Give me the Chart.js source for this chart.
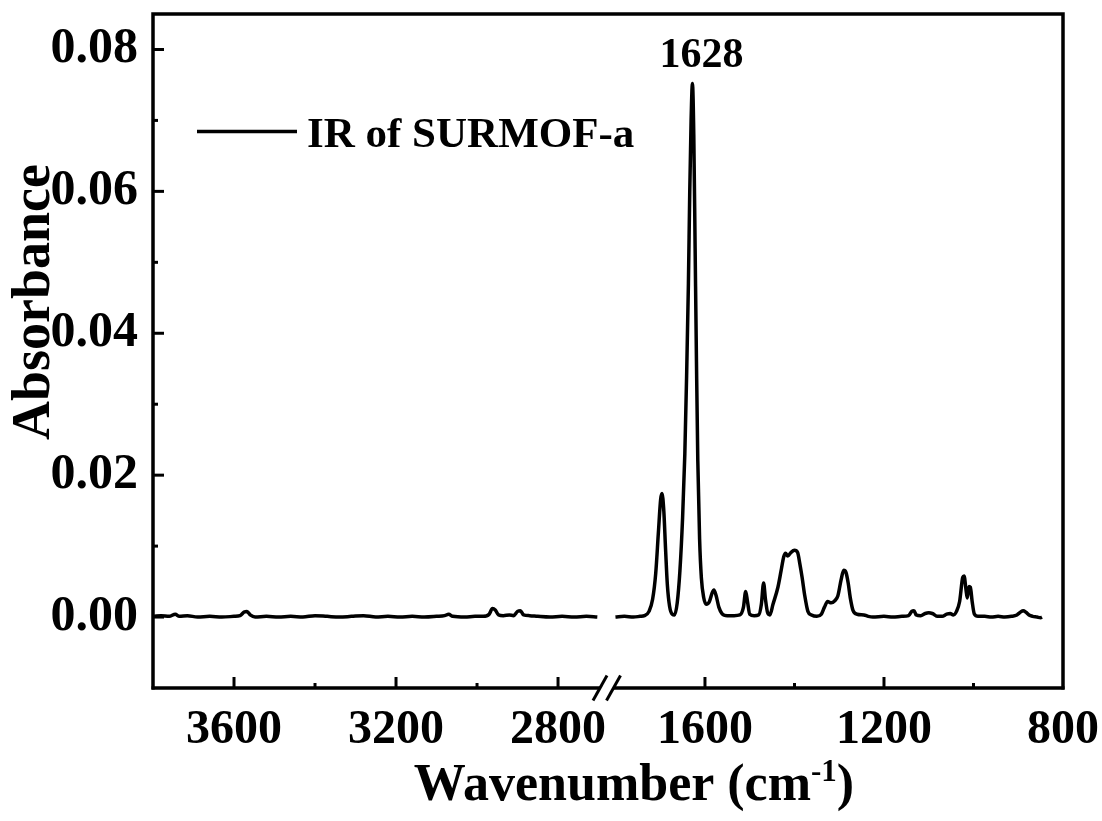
<!DOCTYPE html>
<html>
<head>
<meta charset="utf-8">
<script src="https://cdn.jsdelivr.net/npm/chart.js@4.4.1/dist/chart.umd.min.js"></script>
<style>
  html, body { margin: 0; padding: 0; background: #fff; }
</style>
</head>
<body>
<canvas id="irChart" width="1102" height="821"></canvas>
<script>
// wavenumber ranges (cm-1) shown on either side of the axis break
const xSegments = [[3800, 2700], [1800, 800]];
const xMajorTicks = [3600, 3200, 2800, 1600, 1200, 800];
const xMinorTicks = [3400, 3000, 1400, 1000];
const yMajorTicks = [0, 0.02, 0.04, 0.06, 0.08];
const yMinorTicks = [0.01, 0.03, 0.05, 0.07];

const seriesLabel = "IR of SURMOF-a";
const xTitle = "Wavenumber (cm";
const xTitleSup = "-1";
const yTitle = "Absorbance";
const peakWn = 1628;

// high wavenumber part, left of the break
const highWn = [3798, 3780, 3760, 3745, 3735, 3715, 3690, 3660, 3630, 3600, 3585, 3575, 3568, 3560, 3548,
  3520, 3490, 3460, 3430, 3400, 3370, 3340, 3310, 3280, 3250, 3220, 3190, 3160, 3130, 3100, 3080, 3070,
  3060, 3030, 3005, 2985, 2970, 2962, 2955, 2947, 2935, 2920, 2910, 2900, 2893, 2885, 2870, 2850, 2820,
  2790, 2760, 2730, 2703];
const highAbs = [0.0001, 0.0002, 0.0001, 0.0004, 0.0001, 0.0002, 0.0000, 0.0001, 0.0000, 0.0001, 0.0002,
  0.0007, 0.0008, 0.0003, 0.0000, 0.0001, 0.0000, 0.0001, 0.0000, 0.0002, 0.0001, 0.0000, 0.0001, 0.0002,
  0.0000, 0.0001, 0.0000, 0.0001, 0.0000, 0.0001, 0.0002, 0.0004, 0.0001, 0.0000, 0.0001, 0.0001, 0.0004,
  0.0012, 0.0010, 0.0003, 0.0002, 0.0003, 0.0002, 0.0008, 0.0009, 0.0003, 0.0002, 0.0001, 0.0000, 0.0001,
  0.0000, 0.0001, 0.0000];

// fingerprint part, right of the break
const lowWn = [1800, 1780, 1760, 1745, 1735, 1725, 1717, 1710, 1704, 1699, 1696, 1692, 1688, 1684, 1679,
  1673, 1668, 1662, 1656, 1650, 1645, 1641, 1637, 1634, 1631, 1628, 1625, 1622, 1619, 1616, 1612, 1608,
  1603, 1597, 1590, 1584, 1580, 1575, 1569, 1562, 1550, 1535, 1522, 1514, 1509, 1505, 1500, 1490, 1480,
  1474, 1469, 1465, 1460, 1455, 1448, 1437, 1430, 1424, 1420, 1415, 1408, 1400, 1393, 1388, 1383, 1377,
  1370, 1362, 1350, 1340, 1333, 1326, 1318, 1310, 1303, 1296, 1290, 1285, 1280, 1275, 1269, 1260, 1245,
  1235, 1225, 1200, 1180, 1160, 1145, 1138, 1133, 1128, 1118, 1108, 1100, 1092, 1080, 1070, 1060, 1052,
  1045, 1038, 1031, 1024, 1021, 1017, 1014, 1010, 1007, 1003, 998, 990, 975, 960, 945, 930, 915, 903, 895,
  889, 883, 876, 868, 858, 850, 847];
const lowAbs = [0.0000, 0.0001, 0.0000, 0.0001, 0.0002, 0.0008, 0.0025, 0.0062, 0.0120, 0.0166, 0.0174,
  0.0150, 0.0095, 0.0045, 0.0015, 0.0004, 0.0003, 0.0020, 0.0065, 0.0140, 0.0230, 0.0340, 0.0470, 0.0600,
  0.0700, 0.0752, 0.0680, 0.0520, 0.0360, 0.0220, 0.0110, 0.0055, 0.0028, 0.0018, 0.0022, 0.0034, 0.0038,
  0.0030, 0.0014, 0.0005, 0.0002, 0.0002, 0.0003, 0.0014, 0.0036, 0.0022, 0.0004, 0.0002, 0.0003, 0.0018,
  0.0048, 0.0026, 0.0006, 0.0003, 0.0018, 0.0042, 0.0065, 0.0085, 0.0090, 0.0086, 0.0091, 0.0094, 0.0091,
  0.0075, 0.0056, 0.0030, 0.0008, 0.0003, 0.0001, 0.0004, 0.0014, 0.0022, 0.0020, 0.0023, 0.0030, 0.0052,
  0.0066, 0.0063, 0.0048, 0.0026, 0.0009, 0.0004, 0.0003, 0.0001, 0.0000, 0.0001, 0.0000, 0.0001, 0.0002,
  0.0008, 0.0009, 0.0003, 0.0002, 0.0005, 0.0006, 0.0005, 0.0001, 0.0001, 0.0004, 0.0005, 0.0003, 0.0008,
  0.0022, 0.0056, 0.0058, 0.0040, 0.0027, 0.0043, 0.0042, 0.0022, 0.0004, 0.0001, 0.0001, 0.0000, 0.0001,
  0.0000, 0.0001, 0.0003, 0.0007, 0.0009, 0.0007, 0.0003, 0.0001, 0.0000, -0.0001, 0.0000];

const serif = '"Liberation Serif", "Times New Roman", serif';

// linear scale split into pieces, each piece drawn on its own part of the axis
const LinearScale = Chart.LinearScale || Chart.registry.getScale("linear");
class BrokenScale extends LinearScale {
  toDecimal(v) {
    const segs = this.options.segments;
    const spans = this.options.spans;
    for (let i = 0; i < segs.length; i++) {
      const [from, to] = segs[i];
      if (v <= Math.max(from, to) && v >= Math.min(from, to)) {
        return spans[i][0] + (v - from) / (to - from) * (spans[i][1] - spans[i][0]);
      }
    }
    return (spans[0][1] + spans[1][0]) / 2;
  }
  getPixelForValue(value) {
    if (value === null || value === undefined) return NaN;
    return this.getPixelForDecimal(this.toDecimal(value));
  }
  getValueForPixel(pixel) {
    const d = this.getDecimalForPixel(pixel);
    const segs = this.options.segments;
    const spans = this.options.spans;
    const i = d < spans[1][0] ? 0 : 1;
    return segs[i][0] + (d - spans[i][0]) / (spans[i][1] - spans[i][0]) * (segs[i][1] - segs[i][0]);
  }
}
BrokenScale.id = "brokenLinear";
BrokenScale.defaults = LinearScale.defaults;
Chart.register(BrokenScale);

function toPoints(xs, ys) {
  return xs.map((x, i) => ({ x: x, y: ys[i] }));
}

const frameAndLabels = {
  id: "frameAndLabels",
  afterDatasetsDraw(chart) {
    const { ctx, chartArea: a } = chart;
    const x = chart.scales.x;
    const y = chart.scales.y;
    ctx.save();
    ctx.strokeStyle = "#000";
    ctx.fillStyle = "#000";
    ctx.lineWidth = 3.5;

    // frame: left, top, right
    ctx.beginPath();
    ctx.moveTo(a.left, a.bottom + 1.5);
    ctx.lineTo(a.left, a.top);
    ctx.lineTo(a.right, a.top);
    ctx.lineTo(a.right, a.bottom + 1.5);
    ctx.stroke();

    // bottom axis, cut at the break
    const gapL = x.getPixelForValue(xSegments[0][1]) + 1.5;
    const gapR = x.getPixelForValue(xSegments[1][0]) - 1.5;
    ctx.beginPath();
    ctx.moveTo(a.left - 1.5, a.bottom);
    ctx.lineTo(gapL, a.bottom);
    ctx.moveTo(gapR, a.bottom);
    ctx.lineTo(a.right + 1.5, a.bottom);
    ctx.stroke();

    // break marks
    const c = (gapL + gapR) / 2;
    ctx.lineWidth = 3;
    [c - 7, c + 6.5].forEach(cx => {
      ctx.beginPath();
      ctx.moveTo(cx - 7, a.bottom + 12.5);
      ctx.lineTo(cx + 7, a.bottom - 12.5);
      ctx.stroke();
    });

    // inward tick marks
    const tick = (vals, len, horiz) => {
      vals.forEach(v => {
        ctx.beginPath();
        if (horiz) {
          const px = x.getPixelForValue(v);
          ctx.moveTo(px, a.bottom);
          ctx.lineTo(px, a.bottom - len);
        } else {
          const py = y.getPixelForValue(v);
          ctx.moveTo(a.left, py);
          ctx.lineTo(a.left + len, py);
        }
        ctx.stroke();
      });
    };
    tick(xMajorTicks.filter(v => v !== 800), 11, true);
    tick(xMinorTicks, 5, true);
    tick(yMajorTicks, 11, false);
    tick(yMinorTicks, 5, false);

    // legend
    const ds = chart.data.datasets[0];
    ctx.lineWidth = 3.5;
    ctx.beginPath();
    ctx.moveTo(197, 131.5);
    ctx.lineTo(297, 131.5);
    ctx.stroke();
    ctx.font = "bold 43px " + serif;
    ctx.textAlign = "left";
    ctx.textBaseline = "alphabetic";
    ctx.fillText(ds.label, 307, 147);

    // peak annotation
    ctx.font = "bold 42px " + serif;
    ctx.textAlign = "center";
    ctx.fillText(String(peakWn), x.getPixelForValue(peakWn) + 9, 67);

    // axis titles
    ctx.font = "bold 52px " + serif;
    const mainW = ctx.measureText(xTitle).width;
    ctx.font = "bold 31px " + serif;
    const supW = ctx.measureText(xTitleSup).width;
    ctx.font = "bold 52px " + serif;
    const closeW = ctx.measureText(")").width;
    let tx = 634 - (mainW + supW + closeW) / 2;
    ctx.textAlign = "left";
    ctx.fillText(xTitle, tx, 800);
    tx += mainW;
    ctx.font = "bold 31px " + serif;
    ctx.fillText(xTitleSup, tx, 781);
    tx += supW;
    ctx.font = "bold 52px " + serif;
    ctx.fillText(")", tx, 800);

    ctx.translate(49, 302);
    ctx.rotate(-Math.PI / 2);
    ctx.font = "bold 54px " + serif;
    ctx.textAlign = "center";
    ctx.fillText(yTitle, 0, 0);
    ctx.restore();
  }
};

const lineStyle = {
  borderColor: "#000",
  borderWidth: 3.5,
  pointRadius: 0,
  cubicInterpolationMode: "monotone",
  fill: false
};

new Chart(document.getElementById("irChart"), {
  type: "line",
  data: {
    datasets: [
      Object.assign({ label: seriesLabel, data: toPoints(highWn, highAbs) }, lineStyle),
      Object.assign({ label: seriesLabel, data: toPoints(lowWn, lowAbs) }, lineStyle)
    ]
  },
  options: {
    responsive: false,
    animation: false,
    events: [],
    layout: { padding: { top: 14, right: 39, left: 0, bottom: 0 } },
    plugins: {
      legend: { display: false },
      tooltip: { enabled: false }
    },
    scales: {
      x: {
        type: "brokenLinear",
        min: 800,
        max: 3800,
        segments: xSegments,
        spans: [[0, 0.4896], [0.5082, 1]],
        afterBuildTicks: s => { s.ticks = xMajorTicks.map(v => ({ value: v })); },
        afterFit: s => { s.height = 133; s.paddingLeft = 0; s.paddingRight = 0; },
        grid: { display: false, drawTicks: false },
        border: { display: false },
        ticks: {
          color: "#000",
          font: { family: serif, weight: "bold", size: 48 },
          padding: 14,
          autoSkip: false,
          maxRotation: 0,
          callback: v => String(v)
        }
      },
      y: {
        min: -0.01,
        max: 0.085,
        afterBuildTicks: s => { s.ticks = yMajorTicks.map(v => ({ value: v })); },
        afterFit: s => { s.width = 153; s.paddingTop = 0; s.paddingBottom = 0; },
        grid: { display: false, drawTicks: false },
        border: { display: false },
        ticks: {
          color: "#000",
          font: { family: serif, weight: "bold", size: 50 },
          padding: 15,
          callback: v => v.toFixed(2)
        }
      }
    }
  },
  plugins: [frameAndLabels]
});
</script>
</body>
</html>
